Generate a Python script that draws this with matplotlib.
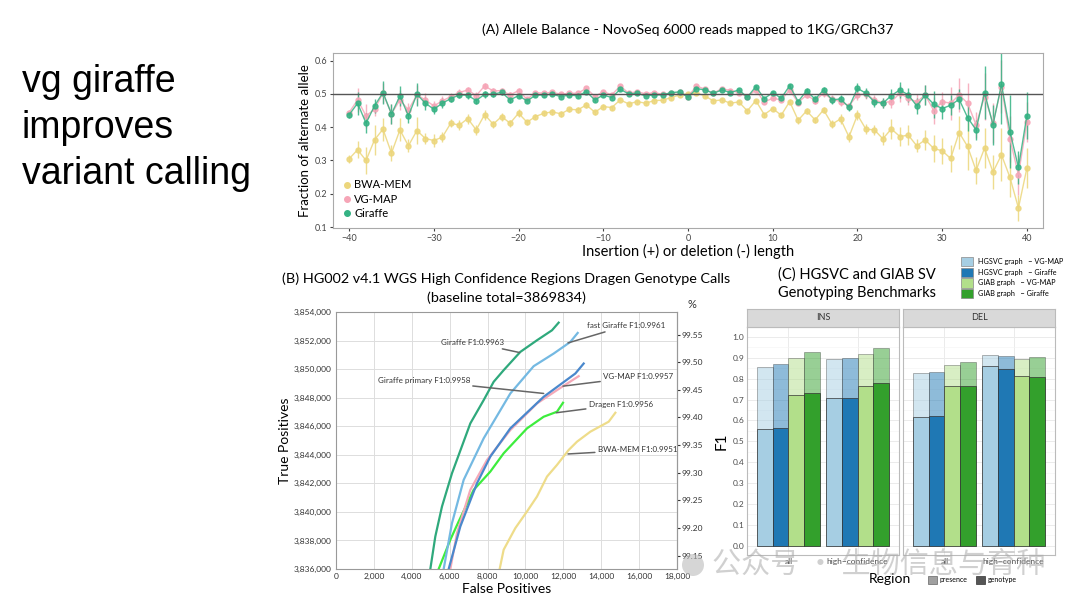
import numpy as np
import matplotlib.pyplot as plt
from matplotlib.lines import Line2D
from matplotlib.patches import Patch, Ellipse
from matplotlib.ticker import FuncFormatter

W, H = 1080, 608
plt.rcParams['font.family'] = ['Lato', 'DejaVu Sans']

# ---------------- (A) allele balance ----------------
indel_len = list(range(-40, 41))

bwa_af = [0.305, 0.332, 0.300, 0.362, 0.394, 0.322, 0.392, 0.344, 0.390, 0.366, 0.360,
          0.370, 0.412, 0.406, 0.426, 0.392, 0.438, 0.409, 0.432, 0.412, 0.442,
          0.415, 0.432, 0.442, 0.446, 0.440, 0.454, 0.452, 0.467, 0.445, 0.462,
          0.459, 0.482, 0.470, 0.477, 0.472, 0.480, 0.481, 0.489, 0.497, 0.500,
          0.503, 0.494, 0.479, 0.482, 0.472, 0.476, 0.449, 0.480, 0.438, 0.456,
          0.436, 0.477, 0.421, 0.449, 0.422, 0.452, 0.409, 0.425, 0.371, 0.437,
          0.394, 0.392, 0.365, 0.395, 0.372, 0.376, 0.344, 0.362, 0.336, 0.329,
          0.306, 0.384, 0.342, 0.270, 0.337, 0.265, 0.317, 0.249, 0.157, 0.277]
bwa_err = [0.012, 0.025, 0.040, 0.045, 0.035, 0.025, 0.035, 0.020, 0.040, 0.018, 0.020,
           0.015, 0.012, 0.015, 0.015, 0.015, 0.015, 0.010, 0.012, 0.010, 0.012,
           0.008, 0.008, 0.008, 0.008, 0.008, 0.008, 0.008, 0.008, 0.008, 0.008,
           0.006, 0.006, 0.006, 0.006, 0.006, 0.006, 0.006, 0.006, 0.006, 0.006,
           0.006, 0.006, 0.006, 0.006, 0.006, 0.006, 0.006, 0.006, 0.006, 0.006,
           0.008, 0.008, 0.010, 0.010, 0.010, 0.010, 0.012, 0.015, 0.015, 0.015,
           0.015, 0.015, 0.020, 0.030, 0.030, 0.030, 0.020, 0.030, 0.040, 0.040,
           0.040, 0.050, 0.070, 0.040, 0.060, 0.050, 0.080, 0.060, 0.040, 0.060]

vgmap_af = [0.444, 0.482, 0.434, 0.454, 0.502, 0.440, 0.482, 0.452, 0.497, 0.482, 0.464,
            0.479, 0.492, 0.504, 0.512, 0.495, 0.524, 0.509, 0.510, 0.497, 0.510,
            0.484, 0.504, 0.502, 0.505, 0.499, 0.502, 0.502, 0.517, 0.492, 0.507,
            0.497, 0.524, 0.502, 0.507, 0.500, 0.504, 0.499, 0.502, 0.505, 0.492,
            0.524, 0.514, 0.502, 0.516, 0.510, 0.504, 0.492, 0.512, 0.476, 0.487,
            0.482, 0.512, 0.474, 0.497, 0.480, 0.502, 0.484, 0.477, 0.464, 0.497,
            0.500, 0.482, 0.474, 0.477, 0.502, 0.487, 0.476, 0.497, 0.450, 0.477,
            0.472, 0.497, 0.472, 0.407, 0.492, 0.412, 0.522, 0.365, 0.257, 0.415]
vgmap_err = [0.008, 0.035, 0.035, 0.020, 0.030, 0.030, 0.030, 0.020, 0.030, 0.020, 0.015,
             0.015, 0.010, 0.010, 0.010, 0.010, 0.010, 0.008, 0.008, 0.008, 0.008,
             0.005, 0.005, 0.005, 0.005, 0.005, 0.005, 0.005, 0.005, 0.005, 0.005,
             0.004, 0.004, 0.004, 0.004, 0.004, 0.004, 0.004, 0.004, 0.004, 0.004,
             0.004, 0.004, 0.004, 0.004, 0.004, 0.004, 0.004, 0.004, 0.004, 0.004,
             0.005, 0.006, 0.008, 0.008, 0.010, 0.010, 0.012, 0.012, 0.010, 0.015,
             0.015, 0.015, 0.015, 0.020, 0.025, 0.020, 0.025, 0.030, 0.040, 0.030,
             0.050, 0.050, 0.060, 0.040, 0.070, 0.060, 0.080, 0.070, 0.060, 0.060]

giraffe_af = [0.437, 0.472, 0.412, 0.464, 0.504, 0.440, 0.494, 0.434, 0.499, 0.472, 0.454,
              0.472, 0.486, 0.497, 0.496, 0.480, 0.499, 0.499, 0.505, 0.482, 0.495,
              0.479, 0.496, 0.497, 0.499, 0.492, 0.497, 0.494, 0.507, 0.482, 0.497,
              0.489, 0.514, 0.500, 0.502, 0.494, 0.497, 0.497, 0.504, 0.506, 0.490,
              0.516, 0.512, 0.502, 0.512, 0.504, 0.512, 0.490, 0.522, 0.486, 0.504,
              0.487, 0.525, 0.477, 0.510, 0.484, 0.512, 0.482, 0.485, 0.460, 0.517,
              0.502, 0.476, 0.472, 0.495, 0.512, 0.497, 0.464, 0.496, 0.469, 0.456,
              0.466, 0.484, 0.429, 0.392, 0.504, 0.407, 0.529, 0.387, 0.279, 0.435]
giraffe_err = [0.008, 0.035, 0.030, 0.020, 0.035, 0.030, 0.030, 0.020, 0.035, 0.020, 0.015,
               0.015, 0.010, 0.010, 0.010, 0.010, 0.010, 0.008, 0.008, 0.008, 0.008,
               0.005, 0.005, 0.005, 0.005, 0.005, 0.005, 0.005, 0.005, 0.005, 0.005,
               0.004, 0.004, 0.004, 0.004, 0.004, 0.004, 0.004, 0.004, 0.004, 0.004,
               0.004, 0.004, 0.004, 0.004, 0.004, 0.004, 0.004, 0.004, 0.004, 0.004,
               0.005, 0.006, 0.008, 0.008, 0.010, 0.010, 0.012, 0.012, 0.010, 0.015,
               0.015, 0.015, 0.015, 0.020, 0.025, 0.020, 0.025, 0.030, 0.040, 0.030,
               0.030, 0.030, 0.040, 0.030, 0.080, 0.060, 0.120, 0.110, 0.050, 0.070]

# ---------------- (B) ROC-like curves ----------------
baseline_total = 3869834
giraffe_fp = [4979, 5243, 5595, 6123, 7091, 7795, 8322, 8850, 9730, 10610, 11401, 11753]
giraffe_tp = [3836000, 3838282, 3840378, 3842707, 3846199, 3847829, 3849110, 3849925,
              3851206, 3852021, 3852719, 3853255]
fast_fp = [5683, 6123, 6739, 7795, 9202, 10434, 11490, 12370, 12757]
fast_tp = [3836000, 3839213, 3842240, 3845151, 3848295, 3850205, 3851089, 3851904, 3852533]
primary_fp = [5947, 6563, 7443, 8146, 9202, 10962, 12634, 13074]
primary_tp = [3836000, 3838980, 3842007, 3843871, 3845850, 3848062, 3849692, 3850391]
vgmap_fp = [6035, 6387, 7091, 7971, 9202, 10610, 11665, 12810]
vgmap_tp = [3836000, 3838515, 3841542, 3843638, 3845733, 3847597, 3848528, 3849506]
dragen_fp = [5419, 6035, 6475, 7267, 8146, 8850, 10082, 10962, 11665, 11982]
dragen_tp = [3836000, 3838049, 3839330, 3841542, 3842823, 3844103, 3845850, 3846665,
             3847014, 3847643]
bwa_fp = [8639, 8850, 9466, 10082, 10610, 11138, 11665, 12282, 12722, 13426, 14394, 14746]
bwa_tp = [3836000, 3837351, 3838864, 3840029, 3841076, 3842473, 3843289, 3844336, 3844918,
          3845617, 3846316, 3846944]

# ---------------- (C) SV genotyping F1 ----------------
sv_types = ['INS', 'DEL']
regions = ['all', 'high\u2212confidence']
methods = ['HGSVC graph   \u2212 VG-MAP', 'HGSVC graph   \u2212 Giraffe',
           'GIAB graph   \u2212 VG-MAP', 'GIAB graph   \u2212 Giraffe']
ins_presence = [[0.858, 0.873, 0.900, 0.927], [0.896, 0.897, 0.920, 0.945]]
ins_genotype = [[0.557, 0.563, 0.720, 0.730], [0.710, 0.710, 0.765, 0.780]]
del_presence = [[0.828, 0.832, 0.866, 0.880], [0.915, 0.910, 0.896, 0.906]]
del_genotype = [[0.615, 0.622, 0.763, 0.765], [0.860, 0.845, 0.815, 0.810]]


def px_rect(l, t, r, b):
    return [l / W, 1 - b / H, (r - l) / W, (b - t) / H]


def fx(x):
    return x / W


def fy(y):
    return 1 - y / H


fig = plt.figure(figsize=(W / 100, H / 100), dpi=100)

# big headline on the left
for i, line in enumerate(['vg giraffe', 'improves', 'variant calling']):
    fig.text(fx(22), fy(82 + 46 * i), line, fontsize=27, va='center', ha='left',
             family=['Liberation Sans', 'DejaVu Sans'], color='black')

# ---- panel A ----
axA = fig.add_axes(px_rect(333, 53, 1043, 228))
colA = {'BWA-MEM': '#ecd67c', 'VG-MAP': '#f6a5b7', 'Giraffe': '#34b283'}
for name, vals, err in [('BWA-MEM', bwa_af, bwa_err), ('VG-MAP', vgmap_af, vgmap_err),
                        ('Giraffe', giraffe_af, giraffe_err)]:
    axA.errorbar(indel_len, vals, yerr=err, color=colA[name], marker='o', ms=3.6,
                 lw=1.0, elinewidth=1.0, ecolor=colA[name], alpha=0.85, capsize=0)
axA.axhline(0.5, color='#555555', lw=1, zorder=5)
axA.set_xlim(-41.9, 41.9)
axA.set_ylim(0.097, 0.623)
axA.set_xticks(range(-40, 41, 10))
axA.set_yticks([0.1, 0.2, 0.3, 0.4, 0.5, 0.6])
axA.tick_params(labelsize=6.5, length=2, colors='#444444', pad=2)
for s in axA.spines.values():
    s.set_color('#aaaaaa')
axA.set_xlabel('Insertion (+) or deletion (-) length', fontsize=10.5, labelpad=1)
axA.set_ylabel('Fraction of alternate allele', fontsize=9.5, labelpad=3)
handlesA = [Line2D([], [], ls='none', marker='o', ms=4, color=colA[k], label=k)
            for k in ['BWA-MEM', 'VG-MAP', 'Giraffe']]
axA.legend(handles=handlesA, loc='lower left', fontsize=8, frameon=False,
           handletextpad=0.1, labelspacing=0.3, borderaxespad=0.4, handlelength=1)
fig.text(fx(688), fy(30), '(A) Allele Balance - NovoSeq 6000 reads mapped to 1KG/GRCh37',
         fontsize=10.2, ha='center', va='center')

# ---- panel B ----
axB = fig.add_axes(px_rect(336, 312, 677, 569))
curves = [(bwa_fp, bwa_tp, '#eedc8a'), (dragen_fp, dragen_tp, '#3ded3d'),
          (vgmap_fp, vgmap_tp, '#f5a9b8'), (primary_fp, primary_tp, '#4a88cc'),
          (fast_fp, fast_tp, '#74b9e2'), (giraffe_fp, giraffe_tp, '#2fa97c')]
for xs, ys, c in curves:
    axB.plot(xs, ys, color=c, lw=1.6)
axB.set_xlim(0, 18000)
axB.set_ylim(3836000, 3854000)
axB.set_xticks(range(0, 18001, 2000))
axB.set_yticks(range(3836000, 3854001, 2000))
comma = FuncFormatter(lambda v, p: f'{int(v):,}')
axB.xaxis.set_major_formatter(comma)
axB.yaxis.set_major_formatter(comma)
axB.grid(True, color='#dddddd', lw=0.7)
axB.tick_params(labelsize=6, length=0, pad=3, colors='#333333')
for s in axB.spines.values():
    s.set_color('#999999')
secB = axB.secondary_yaxis('right', functions=(lambda y: y / baseline_total * 100,
                                               lambda p: p * baseline_total / 100))
secB.set_yticks([99.15, 99.20, 99.25, 99.30, 99.35, 99.40, 99.45, 99.50, 99.55])
secB.yaxis.set_major_formatter(FuncFormatter(lambda v, p: f'{v:.2f}'))
secB.tick_params(labelsize=6, length=2, pad=1, colors='#333333')
secB.spines['right'].set_color('#999999')
axB.set_xlabel('False Positives', fontsize=10, labelpad=2)
axB.set_ylabel('True Positives', fontsize=10, labelpad=2)
fig.text(fx(692), fy(305), '%', fontsize=8, ha='center', va='center', color='#333333')

ann = dict(arrowprops=dict(arrowstyle='-', color='#666666', lw=1.1, shrinkA=0, shrinkB=0),
           fontsize=5.8, color='#333333', va='center')
axB.annotate('Giraffe F1:0.9963', xy=(9695, 3851159), xytext=(8900, 3851858), ha='right', **ann)
axB.annotate('fast Giraffe F1:0.9961', xy=(12246, 3851834), xytext=(13250, 3853045), ha='left', **ann)
axB.annotate('Giraffe primary F1:0.9958', xy=(10962, 3848295), xytext=(2199, 3849180), ha='left', **ann)
axB.annotate('VG-MAP F1:0.9957', xy=(11982, 3848807), xytext=(14094, 3849459), ha='left', **ann)
axB.annotate('Dragen F1:0.9956', xy=(11630, 3846944), xytext=(13337, 3847527), ha='left', **ann)
axB.annotate('BWA-MEM F1:0.9951', xy=(12246, 3844057), xytext=(13812, 3844336), ha='left', **ann)
fig.text(fx(506), fy(279), '(B) HG002 v4.1 WGS High Confidence Regions Dragen Genotype Calls',
         fontsize=10.4, ha='center', va='center')
fig.text(fx(506), fy(298), '(baseline total=3869834)', fontsize=10.4, ha='center', va='center')

# ---- panel C ----
colC = ['#a6cee3', '#1f78b4', '#b2df8a', '#33a02c']
facets = [('INS', ins_presence, ins_genotype, 747, 899), ('DEL', del_presence, del_genotype, 903, 1055)]
bw = 0.9 / 4
for k, (lab, pres, geno, l, r) in enumerate(facets):
    ax = fig.add_axes(px_rect(l, 327, r, 555))
    for g in range(2):
        for m in range(4):
            xpos = g + 1 + (m - 1.5) * bw
            ax.bar(xpos, pres[g][m], width=bw, color=colC[m], alpha=0.5,
                   edgecolor='#333333', lw=0.5, zorder=3)
            ax.bar(xpos, geno[g][m], width=bw, color=colC[m],
                   edgecolor='#333333', lw=0.5, zorder=4)
    ax.set_xlim(0.4, 2.6)
    ax.set_ylim(-0.045, 1.048)
    ax.set_yticks(np.arange(0, 1.01, 0.1))
    ax.set_yticks(np.arange(0.05, 1.0, 0.1), minor=True)
    ax.set_xticks([1, 2])
    ax.set_xticklabels(regions)
    ax.grid(True, which='major', color='#ebebeb', lw=0.7, zorder=0)
    ax.grid(True, which='minor', axis='y', color='#f3f3f3', lw=0.4, zorder=0)
    ax.tick_params(which='both', length=0, labelsize=6, colors='#4d4d4d', pad=2)
    if k == 0:
        ax.yaxis.set_major_formatter(FuncFormatter(lambda v, p: f'{v:.1f}'))
        ax.set_ylabel('F1', fontsize=11, labelpad=3)
    else:
        ax.set_yticklabels([])
    for s in ax.spines.values():
        s.set_color('#bbbbbb')
    strip = fig.add_axes(px_rect(l, 309, r, 327))
    strip.set_facecolor('#d9d9d9')
    strip.set_xticks([])
    strip.set_yticks([])
    for s in strip.spines.values():
        s.set_color('#bbbbbb')
    strip.text(0.5, 0.5, lab, fontsize=6.5, ha='center', va='center', color='#333333',
               transform=strip.transAxes)

fig.text(fx(857), fy(275), '(C) HGSVC and GIAB SV', fontsize=10.5, ha='center', va='center')
fig.text(fx(857), fy(293), 'Genotyping Benchmarks', fontsize=10.5, ha='center', va='center')
fig.legend(handles=[Patch(facecolor=c, edgecolor='#888888', lw=0.5, label=m)
                    for c, m in zip(colC, methods)],
           loc='upper left', bbox_to_anchor=(fx(961), fy(257)), fontsize=5.2, frameon=False,
           handlelength=1.7, handleheight=1.6, labelspacing=0.2, handletextpad=0.6,
           borderaxespad=0, borderpad=0)
fig.text(fx(890), fy(579), 'Region', fontsize=10, ha='center', va='center')
fig.legend(handles=[Patch(facecolor='#a0a0a0', edgecolor='#666666', lw=0.5, label='presence'),
                    Patch(facecolor='#555555', edgecolor='#333333', lw=0.5, label='genotype')],
           loc='center left', bbox_to_anchor=(fx(928), fy(580)), ncol=2, fontsize=5,
           frameon=False, handlelength=1.3, handleheight=1.3, columnspacing=1.2,
           handletextpad=0.4, borderaxespad=0, borderpad=0)

# watermark overlay
fig.patches.append(Ellipse((fx(693), fy(565)), 22 / W, 22 / H, transform=fig.transFigure,
                           facecolor='#bbbbbb', alpha=0.6, edgecolor='none'))
fig.text(fx(712), fy(565), '公众号 · 生物信息与育种', fontsize=21, color='#aaaaaa', alpha=0.55,
         ha='left', va='center', family=['Noto Sans CJK SC', 'DejaVu Sans'])

fig.savefig('out.png', dpi=100)
